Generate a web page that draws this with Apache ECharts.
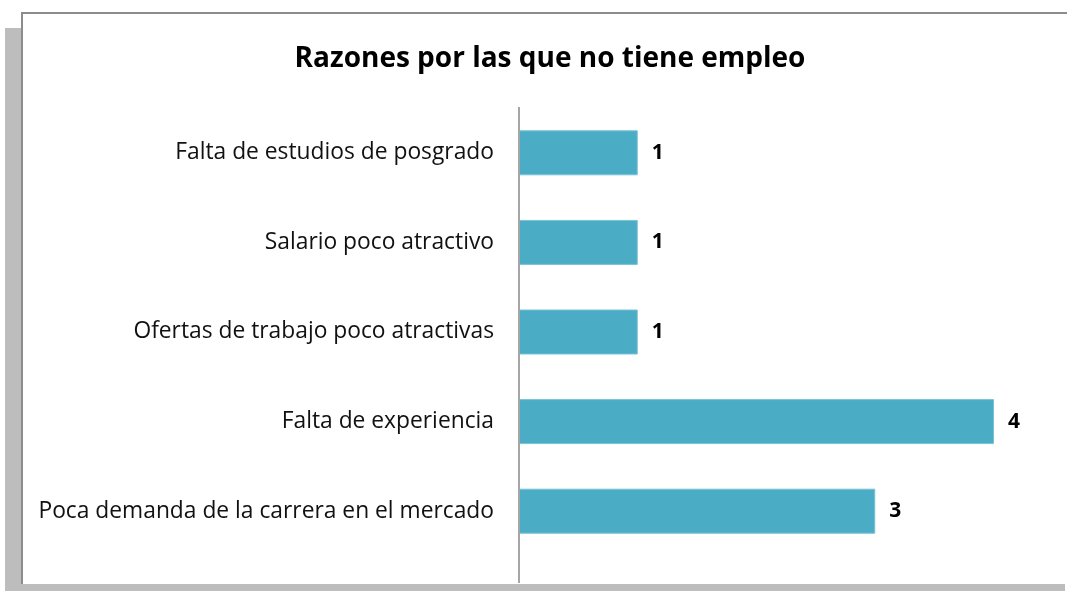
<!DOCTYPE html>
<html>
<head>
<meta charset="utf-8">
<script src="https://cdn.jsdelivr.net/npm/echarts@6/dist/echarts.min.js"></script>
<style>
  html, body { margin: 0; padding: 0; background: #fff; }
  #shadow { position: absolute; left: 5px; top: 28px; width: 1060px; height: 563px; background: #bdbdbd; }
  #panel { position: absolute; left: 21px; top: 12px; right: 0; height: 570px;
           background: #fff; border-top: 2px solid #8c8c8c; border-left: 2px solid #8c8c8c; }
  #chart { position: absolute; left: 0; top: 0; width: 1067px; height: 591px; }
</style>
</head>
<body>
<div id="shadow"></div>
<div id="panel"></div>
<div id="chart"></div>
<script>
const titleText = 'Razones por las que no tiene empleo';
const categories = [
  'Falta de estudios de posgrado',
  'Salario poco atractivo',
  'Ofertas de trabajo poco atractivas',
  'Falta de experiencia',
  'Poca demanda de la carrera en el mercado'
];
const counts = [1, 1, 1, 4, 3];

const FONT = 'Open Sans';
const chart = echarts.init(document.getElementById('chart'), null, { renderer: 'canvas' });

chart.setOption({
  backgroundColor: 'transparent',
  animation: false,
  title: {
    text: titleText,
    left: 545,
    textAlign: 'center',
    top: 40,
    textStyle: { fontFamily: FONT, fontSize: 28, fontWeight: 'bold', color: '#000' }
  },
  graphic: [{
    // value axis baseline runs down to the panel edge, as in the original
    type: 'line',
    shape: { x1: 519, y1: 107, x2: 519, y2: 583 },
    style: { stroke: '#a6a6a6', lineWidth: 2 },
    z: 10
  }],
  grid: { left: 519, right: 73, top: 108, height: 448, containLabel: false },
  xAxis: {
    type: 'value',
    min: 0,
    max: 4,
    show: false
  },
  yAxis: {
    type: 'category',
    inverse: true,
    data: categories,
    axisLine: { show: false },
    axisTick: { show: false },
    axisLabel: { margin: 25, fontFamily: FONT, fontSize: 22.8, color: '#111' }
  },
  series: [{
    type: 'bar',
    data: counts,
    barWidth: 45,
    itemStyle: { color: '#4bacc6', borderColor: '#79c3d6', borderWidth: 1 },
    label: {
      show: true,
      position: 'right',
      distance: 14,
      fontFamily: FONT,
      fontSize: 21,
      fontWeight: 'bold',
      color: '#000'
    }
  }]
});
</script>
</body>
</html>
